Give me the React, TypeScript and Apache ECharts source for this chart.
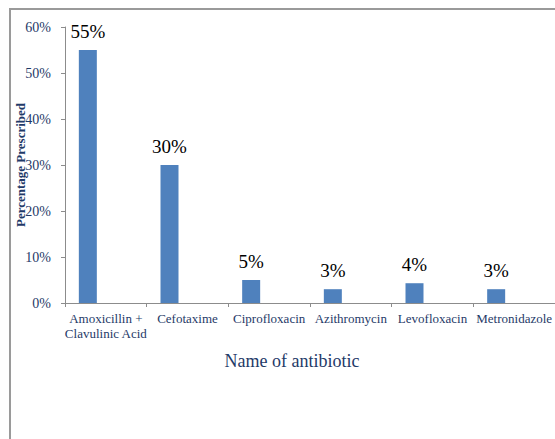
import React, { useEffect, useRef } from "react";
import * as echarts from "echarts";

const categories = [
  "Amoxicillin +\nClavulinic Acid",
  "Cefotaxime",
  "Ciprofloxacin",
  "Azithromycin",
  "Levofloxacin",
  "Metronidazole",
];
const percentPrescribed = [55, 30, 5, 3, 4.3, 3];
const emptySecondSeries = [null, null, null, null, null, null];
const yTicks = [0, 10, 20, 30, 40, 50, 60];

const BLUE_TEXT = "#1F3A68";
const FONT = "Liberation Serif";

export default function App() {
  const ref = useRef<HTMLDivElement>(null);
  useEffect(() => {
    if (!ref.current) return;
    const chart = echarts.init(ref.current, null, { renderer: "svg" });
    chart.setOption({
      animation: false,
      backgroundColor: "#ffffff",
      textStyle: { fontFamily: FONT },
      graphic: [
        {
          type: "rect",
          shape: { x: 10, y: 9, width: 700, height: 600 },
          style: { fill: "none", stroke: "#9a9a9a", lineWidth: 2 },
          silent: true,
          z: -10,
        },
      ],
      grid: { left: 65, top: 27, right: -2, bottom: 136, containLabel: false },
      xAxis: {
        type: "category",
        data: categories,
        axisLine: { lineStyle: { color: "#8c8c8c", width: 1 } },
        axisTick: { show: true, length: 4, inside: false, lineStyle: { color: "#8c8c8c" } },
        axisLabel: {
          interval: 0,
          color: BLUE_TEXT,
          fontFamily: FONT,
          fontSize: 13,
          margin: 8,
          lineHeight: 15,
        },
        name: "Name of antibiotic",
        nameLocation: "middle",
        nameGap: 49,
        nameMoveOverlap: false,
        nameTextStyle: {
          color: BLUE_TEXT,
          fontFamily: FONT,
          fontSize: 18,
          padding: [0, 36, 0, 0],
        },
      },
      yAxis: {
        type: "value",
        min: yTicks[0],
        max: yTicks[yTicks.length - 1],
        interval: 10,
        splitLine: { show: false },
        axisLine: { show: true, lineStyle: { color: "#8c8c8c", width: 1 } },
        axisTick: { show: true, length: 4, lineStyle: { color: "#8c8c8c" } },
        axisLabel: {
          color: BLUE_TEXT,
          fontFamily: FONT,
          fontSize: 14,
          margin: 14,
          formatter: "{value}%",
        },
        name: "Percentage Prescribed",
        nameLocation: "middle",
        nameGap: 38,
        nameMoveOverlap: false,
        nameTextStyle: {
          color: BLUE_TEXT,
          fontFamily: FONT,
          fontSize: 13,
          fontWeight: "bold",
        },
      },
      series: [
        {
          type: "bar",
          data: percentPrescribed,
          barWidth: 18,
          barGap: "100%",
          itemStyle: { color: "#4F81BD" },
          label: {
            show: true,
            position: "top",
            distance: 9,
            color: "#000000",
            fontFamily: FONT,
            fontSize: 19,
            formatter: (p: any) => `${Math.round(p.value)}%`,
          },
        },
        {
          type: "bar",
          data: emptySecondSeries,
          barWidth: 18,
          barGap: "100%",
        },
      ],
    });
    return () => chart.dispose();
  }, []);
  return (
    <div
      ref={ref}
      style={{ position: "fixed", left: 0, top: 0, width: 555, height: 439 }}
    />
  );
}
